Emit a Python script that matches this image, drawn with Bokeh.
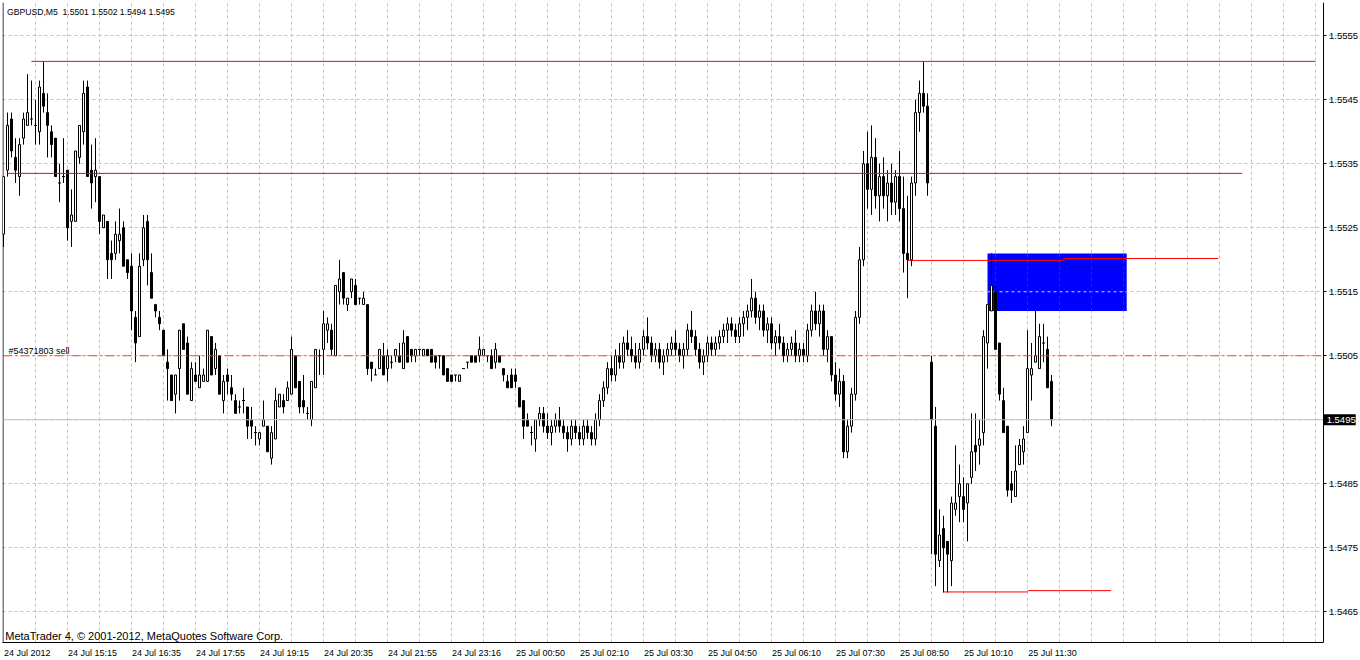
from bokeh.plotting import figure
from bokeh.models import Range1d, FixedTicker, Label, ColumnDataSource, LinearAxis
from bokeh.embed import file_html
from bokeh.resources import INLINE

# ---------------- data (GBPUSD, M5) ----------------
opens = [
 1.5524,1.5534,1.5542,1.5536,1.5533,1.5539,1.5541,1.5542,1.5541,1.5540,
 1.5546,1.5543,1.5540,1.5539,1.5532,1.5533,1.5534,1.5526,1.5526,1.5536,
 1.5540,1.5547,1.5534,1.5533,1.5533,1.5525,1.5526,1.5521,1.5521,1.5523,
 1.5525,1.5520,1.5519,1.5511,1.5508,1.5520,1.5526,1.5518,1.5513,1.5511,
 1.5509,1.5504,1.5502,1.5499,1.5503,1.5510,1.5507,1.5498,1.5502,1.5500,
 1.5501,1.5501,1.5508,1.5503,1.5505,1.5498,1.5502,1.5500,1.5498,1.5497,
 1.5498,1.5497,1.5495,1.5493,1.5492,1.5494,1.5494,1.5489,1.5492,1.5497,
 1.5498,1.5498,1.5499,1.5505,1.5501,1.5498,1.5496,1.5495,1.5500,1.5505,
 1.5506,1.5509,1.5509,1.5505,1.5515,1.5518,1.5513,1.5515,1.5516,1.5514,
 1.5513,1.5513,1.5504,1.5502,1.5503,1.5505,1.5503,1.5504,1.5505,1.5505,
 1.5503,1.5508,1.5506,1.5505,1.5506,1.5505,1.5506,1.5506,1.5505,1.5505,
 1.5505,1.5503,1.5502,1.5502,1.5501,1.5503,1.5504,1.5505,1.5505,1.5505,
 1.5505,1.5505,1.5505,1.5504,1.5505,1.5503,1.5501,1.5502,1.5502,1.5500,
 1.5498,1.5495,1.5493,1.5492,1.5495,1.5496,1.5494,1.5493,1.5494,1.5495,
 1.5494,1.5493,1.5492,1.5494,1.5493,1.5492,1.5494,1.5493,1.5492,1.5495,
 1.5498,1.5500,1.5503,1.5502,1.5505,1.5504,1.5507,1.5506,1.5505,1.5504,
 1.5506,1.5508,1.5507,1.5505,1.5506,1.5504,1.5505,1.5506,1.5507,1.5506,
 1.5505,1.5506,1.5509,1.5508,1.5506,1.5504,1.5505,1.5507,1.5506,1.5507,
 1.5508,1.5509,1.5510,1.5509,1.5508,1.5510,1.5511,1.5512,1.5514,1.5511,
 1.5512,1.5509,1.5510,1.5507,1.5508,1.5507,1.5505,1.5506,1.5507,1.5505,
 1.5506,1.5505,1.5509,1.5512,1.5510,1.5512,1.5506,1.5508,1.5502,1.5499,
 1.5501,1.5490,1.5494,1.5499,1.5511,1.5520,1.5535,1.5531,1.5536,1.5530,
 1.5533,1.5530,1.5532,1.5529,1.5533,1.5528,1.5521,1.5520,1.5532,1.5543,
 1.5546,1.5544,1.5504,1.5494,1.5473,1.5478,1.5476,1.5473,1.5481,1.5483,
 1.5483,1.5482,1.5486,1.5491,1.5491,1.5493,1.5507,1.5512,1.5515,1.5507,
 1.5498,1.5494,1.5485,1.5483,1.5488,1.5490,1.5493,1.5502,1.5504,1.5503,
 1.5507,1.5506,1.5501]
highs = [
 1.5533,1.5543,1.5543,1.5539,1.5539,1.5543,1.5549,1.5548,1.5545,1.5548,
 1.5551,1.5546,1.5541,1.5539,1.5535,1.5539,1.5534,1.5531,1.5537,1.5541,
 1.5548,1.5548,1.5538,1.5539,1.5533,1.5527,1.5526,1.5523,1.5526,1.5528,
 1.5526,1.5520,1.5521,1.5512,1.5521,1.5527,1.5527,1.5521,1.5513,1.5512,
 1.5509,1.5506,1.5502,1.5502,1.5509,1.5510,1.5508,1.5504,1.5504,1.5505,
 1.5503,1.5509,1.5508,1.5507,1.5505,1.5502,1.5503,1.5502,1.5499,1.5498,
 1.5500,1.5497,1.5497,1.5494,1.5493,1.5498,1.5494,1.5494,1.5500,1.5499,
 1.5499,1.5501,1.5508,1.5505,1.5501,1.5502,1.5497,1.5501,1.5506,1.5506,
 1.5512,1.5511,1.5510,1.5516,1.5520,1.5518,1.5514,1.5517,1.5517,1.5514,
 1.5515,1.5513,1.5504,1.5503,1.5506,1.5507,1.5506,1.5505,1.5506,1.5507,
 1.5509,1.5508,1.5506,1.5506,1.5506,1.5506,1.5506,1.5506,1.5505,1.5505,
 1.5505,1.5503,1.5502,1.5502,1.5502,1.5503,1.5504,1.5505,1.5505,1.5508,
 1.5506,1.5505,1.5506,1.5507,1.5505,1.5503,1.5502,1.5503,1.5503,1.5500,
 1.5498,1.5496,1.5494,1.5495,1.5497,1.5497,1.5496,1.5495,1.5496,1.5497,
 1.5495,1.5494,1.5495,1.5495,1.5494,1.5495,1.5495,1.5494,1.5496,1.5499,
 1.5501,1.5504,1.5505,1.5506,1.5507,1.5508,1.5509,1.5508,1.5507,1.5507,
 1.5509,1.5511,1.5508,1.5507,1.5507,1.5506,1.5507,1.5508,1.5509,1.5507,
 1.5507,1.5510,1.5512,1.5509,1.5507,1.5506,1.5508,1.5508,1.5508,1.5509,
 1.5510,1.5511,1.5511,1.5510,1.5511,1.5512,1.5513,1.5517,1.5515,1.5513,
 1.5513,1.5511,1.5511,1.5509,1.5510,1.5508,1.5507,1.5508,1.5509,1.5507,
 1.5507,1.5510,1.5513,1.5515,1.5513,1.5513,1.5509,1.5508,1.5504,1.5503,
 1.5502,1.5495,1.5500,1.5512,1.5522,1.5537,1.5540,1.5541,1.5539,1.5535,
 1.5536,1.5534,1.5535,1.5534,1.5537,1.5533,1.5530,1.5533,1.5545,1.5548,
 1.5551,1.5546,1.5505,1.5497,1.5481,1.5480,1.5476,1.5483,1.5491,1.5488,
 1.5486,1.5485,1.5496,1.5496,1.5495,1.5509,1.5513,1.5521,1.5516,1.5507,
 1.5500,1.5494,1.5487,1.5491,1.5492,1.5494,1.5509,1.5507,1.5512,1.5510,
 1.5510,1.5508,1.5502]
lows = [
 1.5522,1.5533,1.5536,1.5532,1.5530,1.5538,1.5541,1.5541,1.5538,1.5538,
 1.5543,1.5536,1.5536,1.5533,1.5529,1.5532,1.5523,1.5522,1.5526,1.5535,
 1.5538,1.5533,1.5528,1.5529,1.5524,1.5525,1.5517,1.5517,1.5520,1.5521,
 1.5519,1.5517,1.5509,1.5504,1.5508,1.5519,1.5516,1.5514,1.5511,1.5509,
 1.5505,1.5498,1.5498,1.5496,1.5498,1.5506,1.5499,1.5498,1.5501,1.5500,
 1.5501,1.5501,1.5502,1.5502,1.5499,1.5496,1.5499,1.5498,1.5496,1.5496,
 1.5496,1.5492,1.5492,1.5491,1.5491,1.5494,1.5490,1.5488,1.5492,1.5497,
 1.5496,1.5498,1.5499,1.5500,1.5496,1.5496,1.5495,1.5494,1.5500,1.5502,
 1.5502,1.5507,1.5505,1.5505,1.5513,1.5513,1.5512,1.5514,1.5513,1.5513,
 1.5513,1.5502,1.5501,1.5502,1.5503,1.5502,1.5501,1.5503,1.5504,1.5504,
 1.5503,1.5504,1.5504,1.5504,1.5505,1.5505,1.5505,1.5504,1.5503,1.5503,
 1.5502,1.5501,1.5501,1.5501,1.5501,1.5503,1.5503,1.5504,1.5504,1.5504,
 1.5505,1.5504,1.5503,1.5503,1.5504,1.5501,1.5500,1.5500,1.5500,1.5497,
 1.5492,1.5494,1.5491,1.5490,1.5494,1.5493,1.5492,1.5491,1.5493,1.5493,
 1.5492,1.5490,1.5491,1.5492,1.5491,1.5491,1.5492,1.5491,1.5491,1.5494,
 1.5497,1.5499,1.5501,1.5501,1.5503,1.5503,1.5505,1.5504,1.5503,1.5503,
 1.5505,1.5506,1.5504,1.5504,1.5503,1.5502,1.5504,1.5505,1.5505,1.5504,
 1.5503,1.5505,1.5507,1.5505,1.5503,1.5502,1.5504,1.5505,1.5505,1.5506,
 1.5507,1.5507,1.5508,1.5507,1.5507,1.5508,1.5509,1.5511,1.5510,1.5509,
 1.5508,1.5507,1.5506,1.5505,1.5506,1.5504,1.5504,1.5505,1.5504,1.5504,
 1.5504,1.5504,1.5508,1.5509,1.5508,1.5505,1.5504,1.5501,1.5498,1.5497,
 1.5489,1.5489,1.5493,1.5498,1.5510,1.5519,1.5528,1.5527,1.5528,1.5526,
 1.5528,1.5526,1.5527,1.5527,1.5526,1.5518,1.5514,1.5519,1.5530,1.5540,
 1.5543,1.5530,1.5474,1.5469,1.5472,1.5468,1.5468,1.5469,1.5480,1.5479,
 1.5479,1.5476,1.5485,1.5487,1.5488,1.5491,1.5503,1.5512,1.5506,1.5498,
 1.5493,1.5483,1.5482,1.5483,1.5488,1.5488,1.5493,1.5498,1.5504,1.5503,
 1.5504,1.5500,1.5494]
closes = [
 1.5533,1.5541,1.5537,1.5534,1.5538,1.5542,1.5543,1.5542,1.5541,1.5547,
 1.5544,1.5541,1.5538,1.5533,1.5532,1.5533,1.5525,1.5527,1.5537,1.5541,
 1.5546,1.5533,1.5532,1.5534,1.5526,1.5527,1.5520,1.5520,1.5524,1.5524,
 1.5519,1.5518,1.5512,1.5507,1.5519,1.5525,1.5520,1.5514,1.5512,1.5510,
 1.5505,1.5503,1.5498,1.5502,1.5509,1.5506,1.5499,1.5503,1.5501,1.5502,
 1.5502,1.5509,1.5502,1.5506,1.5499,1.5501,1.5501,1.5499,1.5496,1.5497,
 1.5498,1.5494,1.5494,1.5493,1.5493,1.5495,1.5490,1.5493,1.5498,1.5499,
 1.5497,1.5500,1.5506,1.5500,1.5497,1.5497,1.5496,1.5501,1.5506,1.5505,
 1.5510,1.5510,1.5506,1.5516,1.5517,1.5514,1.5514,1.5517,1.5513,1.5514,
 1.5514,1.5503,1.5503,1.5502,1.5506,1.5502,1.5505,1.5504,1.5506,1.5504,
 1.5507,1.5504,1.5505,1.5506,1.5506,1.5506,1.5505,1.5504,1.5504,1.5505,
 1.5502,1.5501,1.5501,1.5502,1.5502,1.5503,1.5504,1.5504,1.5504,1.5506,
 1.5506,1.5505,1.5503,1.5506,1.5504,1.5502,1.5500,1.5500,1.5501,1.5497,
 1.5494,1.5494,1.5493,1.5495,1.5496,1.5494,1.5493,1.5494,1.5495,1.5494,
 1.5493,1.5492,1.5494,1.5493,1.5492,1.5494,1.5493,1.5492,1.5495,1.5498,
 1.5500,1.5503,1.5502,1.5505,1.5504,1.5507,1.5506,1.5505,1.5504,1.5506,
 1.5508,1.5507,1.5505,1.5506,1.5504,1.5505,1.5506,1.5507,1.5506,1.5505,
 1.5506,1.5509,1.5508,1.5506,1.5504,1.5505,1.5507,1.5506,1.5507,1.5508,
 1.5509,1.5510,1.5509,1.5508,1.5510,1.5511,1.5512,1.5514,1.5511,1.5512,
 1.5509,1.5510,1.5507,1.5508,1.5507,1.5505,1.5506,1.5507,1.5505,1.5506,
 1.5505,1.5509,1.5512,1.5510,1.5512,1.5506,1.5508,1.5502,1.5499,1.5501,
 1.5490,1.5494,1.5499,1.5511,1.5520,1.5535,1.5531,1.5536,1.5530,1.5533,
 1.5530,1.5532,1.5529,1.5533,1.5528,1.5521,1.5520,1.5532,1.5543,1.5546,
 1.5544,1.5532,1.5495,1.5474,1.5477,1.5475,1.5474,1.5482,1.5482,1.5485,
 1.5481,1.5485,1.5490,1.5490,1.5492,1.5508,1.5513,1.5516,1.5506,1.5499,
 1.5493,1.5484,1.5484,1.5487,1.5491,1.5492,1.5503,1.5503,1.5505,1.5508,
 1.5507,1.5500,1.5495]

time_ticks = [0, 16, 32, 48, 64, 80, 96, 112, 128, 144, 160, 176, 192, 208, 224, 240, 256]
time_labels = ["24 Jul 2012", "24 Jul 15:15", "24 Jul 16:35", "24 Jul 17:55", "24 Jul 19:15",
               "24 Jul 20:35", "24 Jul 21:55", "24 Jul 23:16", "25 Jul 00:50", "25 Jul 02:10",
               "25 Jul 03:30", "25 Jul 04:50", "25 Jul 06:10", "25 Jul 07:30", "25 Jul 08:50",
               "25 Jul 10:10", "25 Jul 11:30"]
price_ticks = [1.5465, 1.5475, 1.5485, 1.5495, 1.5505, 1.5515, 1.5525, 1.5535, 1.5545, 1.5555]
price_labels = ["1.5465", "1.5475", "1.5485", "1.5495", "1.5505", "1.5515", "1.5525", "1.5535", "1.5545", "1.5555"]

bid_price = 1.5495
bid_text = "1.5495"
order_price = 1.5505
order_text = "#54371803 sell"
title_text = "GBPUSD,M5\u00a0 1.5501 1.5502 1.5494 1.5495"
footer_text = "MetaTrader 4, \u00a9 2001-2012, MetaQuotes Software Corp."

# chart objects (time in bar index, price)
red_lines = [
    (7, 328, 1.5551, 1.5551),
    (1, 309.7, 1.55335, 1.55335),
    (226, 265, 1.55199, 1.55199),
    (265, 303.7, 1.55202, 1.55202),
    (235, 256, 1.54681, 1.54681),
    (256, 276.9, 1.54683, 1.54683),
]
box_t0, box_t1, box_top, box_bottom = 246, 280.8, 1.5521, 1.5512

# ---------------- figure ----------------
FONT = "Liberation Sans"
XLAB_PX = 9.0
FW, FH = 1356, 640
PX_BAR = 4.0
PX_PRICE = 64000.0
x_start = -0.25
x_end = x_start + FW / PX_BAR
x_edge = x_start + 1320.5 / PX_BAR          # chart's right border (price scale)
y_top = 1.55602
y_bottom = y_top - FH / PX_PRICE

# approximate advance widths (Arial metrics, 1/1000 em) to left-align the time labels at their ticks
_ADV = {" ": 278, "\u00a0": 278, "J": 500, "u": 556, "l": 222, ":": 278}
def text_px(s, size):
    return sum(_ADV.get(ch, 556) for ch in s) * size / 1000.0

label_pos = [t + (text_px(l, XLAB_PX) / 2.0 + 0.5) / PX_BAR for t, l in zip(time_ticks, time_labels)]

p = figure(frame_width=FW, frame_height=FH, output_backend="svg", toolbar_location=None,
           x_range=Range1d(x_start, x_end), y_range=Range1d(y_bottom, y_top),
           y_axis_location="right", min_border_left=2, min_border_top=2,
           min_border_right=2, min_border_bottom=17)
p.background_fill_color = "white"
p.border_fill_color = "white"
p.outline_line_color = None

# time axis: line + labels (labels start at their tick like MT4)
xa = p.xaxis[0]
xa.ticker = FixedTicker(ticks=label_pos)
xa.major_label_overrides = {pos: l for pos, l in zip(label_pos, time_labels)}
xa.bounds = (x_start, x_edge)
xa.major_tick_out = 0
xa.major_tick_in = 0
xa.minor_tick_out = 0
xa.minor_tick_in = 0
xa.major_tick_line_color = None
xa.major_label_standoff = 5
xa.axis_line_color = "black"
xa.major_label_text_font = FONT
xa.major_label_text_font_size = "%gpx" % XLAB_PX
xa.major_label_text_color = "black"

# time axis tick marks
xt = LinearAxis(fixed_location=y_bottom, ticker=FixedTicker(ticks=time_ticks),
                major_label_overrides={t: "" for t in time_ticks},
                major_tick_out=3, major_tick_in=0, minor_tick_out=0, minor_tick_in=0,
                axis_line_color=None, major_tick_line_color="black")
p.add_layout(xt, "below")

ya = p.yaxis[0]
ya.fixed_location = x_edge
ya.ticker = FixedTicker(ticks=price_ticks)
ya.major_label_overrides = {t: ("" if t == bid_price else l) for t, l in zip(price_ticks, price_labels)}
ya.major_tick_out = 3
ya.major_tick_in = 0
ya.minor_tick_out = 0
ya.minor_tick_in = 0
ya.major_label_standoff = 3
ya.axis_line_color = "black"
ya.major_tick_line_color = "black"
ya.major_label_text_font = FONT
ya.major_label_text_font_size = "9.5px"
ya.major_label_text_color = "black"

p.xgrid.ticker = FixedTicker(ticks=list(range(8, 330, 8)))
p.ygrid.ticker = FixedTicker(ticks=price_ticks)
p.ygrid.bounds = (x_start, x_edge)
for g in (p.xgrid, p.ygrid):
    g.grid_line_color = "#c0c0c0"
    g.grid_line_dash = "3 3"
    g.grid_line_width = 1

# left border of the chart window
p.segment(x0=[x_start + 0.5 / PX_BAR], x1=[x_start + 0.5 / PX_BAR], y0=[y_bottom], y1=[y_top],
          line_color="black", line_width=1)

# background rectangle object
p.quad(left=[box_t0], right=[box_t1], top=[box_top], bottom=[box_bottom],
       fill_color="#0000ff", line_color=None)
p.segment(x0=[box_t0], x1=[box_t1], y0=[1.5515], y1=[1.5515],
          line_color="#d8d8ff", line_dash="3 3", line_width=1)
vg = [t for t in range(8, 330, 8) if box_t0 < t < box_t1]
p.segment(x0=vg, x1=vg, y0=[box_bottom] * len(vg), y1=[box_top] * len(vg),
          line_color="#2a2ad0", line_dash="3 3", line_width=1)

# candles
n = len(opens)
idx = list(range(n))
tops = [max(o, c) for o, c in zip(opens, closes)]
bots = [min(o, c) for o, c in zip(opens, closes)]
fills = ["white" if c > o else "black" for o, c in zip(opens, closes)]
src = ColumnDataSource(dict(x=idx, h=highs, l=lows))
p.segment(x0="x", x1="x", y0="l", y1="h", source=src, line_color="black", line_width=1)
bodies = [i for i in idx if opens[i] != closes[i]]
bsrc = ColumnDataSource(dict(x=[idx[i] for i in bodies], top=[tops[i] for i in bodies],
                             bot=[bots[i] for i in bodies], fill=[fills[i] for i in bodies]))
p.vbar(x="x", width=0.5, top="top", bottom="bot", source=bsrc, fill_color="fill",
       line_color="black", line_width=1)
dojis = [i for i in idx if opens[i] == closes[i]]
p.segment(x0=[i - 0.375 for i in dojis], x1=[i + 0.375 for i in dojis],
          y0=[opens[i] for i in dojis], y1=[opens[i] for i in dojis],
          line_color="black", line_width=1)

# lines
p.line(x=[x_start, x_edge], y=[bid_price, bid_price], line_color="#c0c0c0", line_width=1)
p.line(x=[0, x_edge], y=[order_price, order_price], line_color="#ee4b1c",
       line_dash="9 3 2 3", line_width=1)
for (t0, t1, p0, p1) in red_lines:
    p.line(x=[t0, t1], y=[p0, p1], line_color="#ff0000", line_width=1)

# texts
p.add_layout(Label(x=0.9, y=1.555875, text=title_text, text_font=FONT, text_font_size="8.6px",
                   text_color="black", text_baseline="middle", text_align="left"))
p.add_layout(Label(x=0.43, y=1.546114, text=footer_text, text_font=FONT, text_font_size="11px",
                   text_color="black", text_baseline="middle", text_align="left"))
p.add_layout(Label(x=1.25, y=1.550578, text=order_text, text_font=FONT, text_font_size="9px",
                   text_color="black", text_baseline="middle", text_align="left"))
p.add_layout(Label(x=x_start + (1323.5 - 2) / PX_BAR, y=bid_price,
                   text="\u00a0" + bid_text, text_font=FONT, text_font_size="9.5px",
                   text_color="white", text_baseline="middle", text_align="left",
                   background_fill_color="black"))

open("out.html", "w").write(file_html(p, INLINE))
